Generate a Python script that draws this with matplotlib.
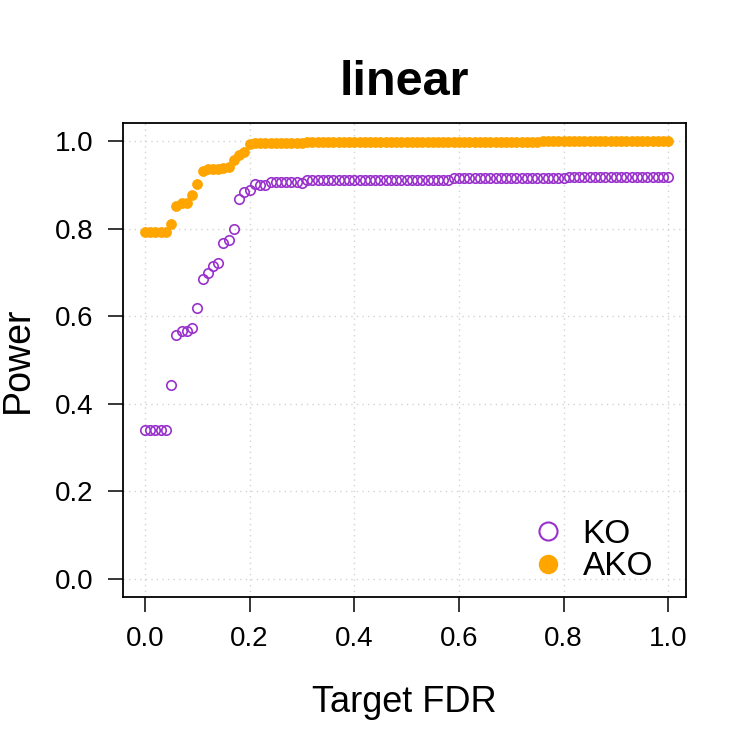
import numpy as np
import matplotlib
matplotlib.use("Agg")
import matplotlib.pyplot as plt
from matplotlib.lines import Line2D

plt.rcParams['font.family'] = ['Liberation Sans', 'DejaVu Sans']

title = "linear"
xlabel = "Target FDR"
ylabel = "Power"
series_names = ["KO", "AKO"]
xticks = [0.0, 0.2, 0.4, 0.6, 0.8, 1.0]
yticks = [0.0, 0.2, 0.4, 0.6, 0.8, 1.0]

fdr = [round(i * 0.01, 2) for i in range(101)]

ko = ([0.34] * 5 +
      [0.443, 0.557, 0.567, 0.567, 0.572, 0.618, 0.684, 0.698, 0.715, 0.722,
       0.768, 0.774, 0.800, 0.867, 0.884, 0.887, 0.901, 0.899, 0.899] +
      [0.907] * 6 + [0.905] +
      [0.912] * 28 + [0.916] * 22 + [0.918] * 20)

ako = ([0.793] * 5 +
       [0.81, 0.852, 0.858, 0.858, 0.877, 0.902, 0.932, 0.935, 0.936, 0.937,
        0.938, 0.940, 0.957, 0.968, 0.975, 0.993] +
       [0.995] * 10 + [0.997] * 45 + [1.0] * 25)

purple = "#9932CC"
orange = "#FFA500"

fig = plt.figure(figsize=(7.5, 7.5), dpi=100)
W = H = 750
l, r, t, b = 123, 686, 123, 597
ax = fig.add_axes([l / W, 1 - b / H, (r - l) / W, (b - t) / H])

ax.set_xlim(-0.042, 1.034)
ax.set_ylim(-0.041, 1.041)

for v in xticks:
    ax.axvline(v, color="#d3d3d3", lw=1.0, ls=(0, (1, 3)), zorder=0)
for v in yticks:
    ax.axhline(v, color="#d3d3d3", lw=1.0, ls=(0, (1, 3)), zorder=0)

ax.plot(fdr, ko, ls="none", marker="o", ms=6.8, mfc="none", mec=purple, mew=1.2, zorder=3)
ax.plot(fdr, ako, ls="none", marker="o", ms=7.2, mfc=orange, mec=orange, mew=0.5, zorder=3)

ax.set_xticks(xticks)
ax.set_xticklabels([f"{v:.1f}" for v in xticks])
ax.set_yticks(yticks)
ax.set_yticklabels([f"{v:.1f}" for v in yticks])
ax.tick_params(axis="both", direction="out", length=11, width=1.1, labelsize=20, pad=10)
for s in ax.spines.values():
    s.set_linewidth(1.3)

ax.set_title(title, fontsize=35, fontweight="bold", pad=20)
ax.set_xlabel(xlabel, fontsize=26, labelpad=24)
ax.set_ylabel(ylabel, fontsize=27, labelpad=14)

handles = [
    Line2D([], [], ls="none", marker="o", ms=13, mfc="none", mec=purple, mew=1.5),
    Line2D([], [], ls="none", marker="o", ms=13, mfc=orange, mec=orange),
]
ax.legend(handles, series_names, loc="lower right", frameon=False, fontsize=24,
          handletextpad=0.05, labelspacing=0.05, borderaxespad=0.3,
          bbox_to_anchor=(0.983, -0.018))

fig.savefig("out.png", dpi=100)
